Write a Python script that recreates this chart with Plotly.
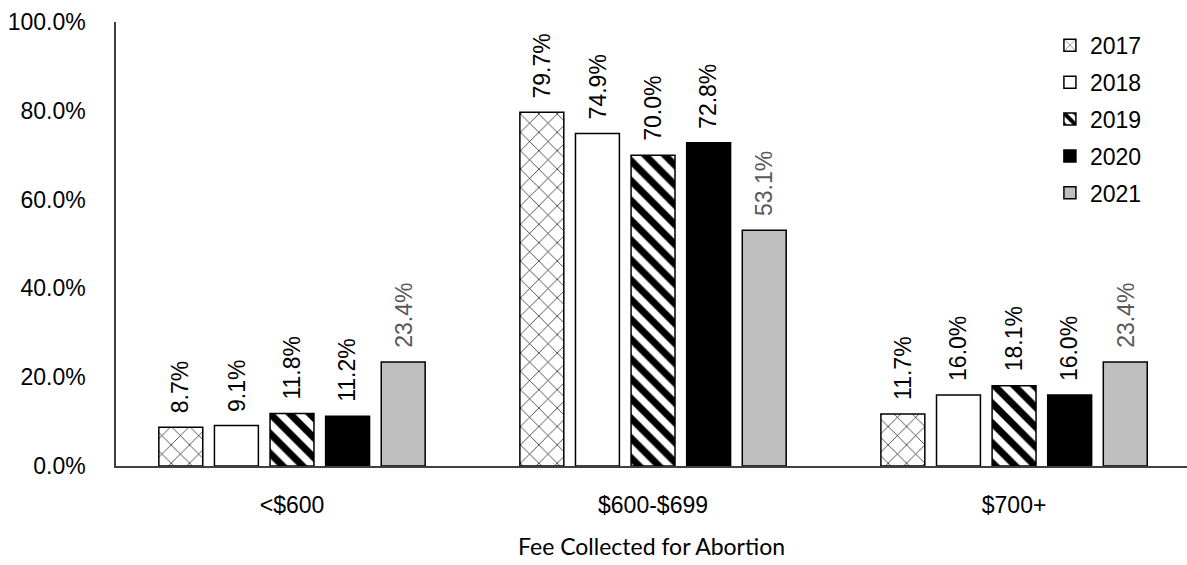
import plotly.graph_objects as go

categories = ["<$600", "$600-$699", "$700+"]
years = ["2017", "2018", "2019", "2020", "2021"]
values = {
    "2017": [8.7, 79.7, 11.7],
    "2018": [9.1, 74.9, 16.0],
    "2019": [11.8, 70.0, 18.1],
    "2020": [11.2, 72.8, 16.0],
    "2021": [23.4, 53.1, 23.4],
}
y_ticks = [0, 20, 40, 60, 80, 100]

FONT = "Liberation Sans, Arial, sans-serif"
FS = 23
BARGAP = 0.23
BARGROUPGAP = 0.21

styles = {
    "2017": dict(color="white", line=dict(color="black", width=1.5),
                 pattern=dict(shape="x", fgcolor="black", bgcolor="white", fgopacity=1,
                              size=13, solidity=0.1)),
    "2018": dict(color="white", line=dict(color="black", width=1.5)),
    "2019": dict(color="white", line=dict(color="black", width=1.5),
                 pattern=dict(shape="\\", fgcolor="black", bgcolor="white", fgopacity=1,
                              size=14, solidity=0.5)),
    "2020": dict(color="black", line=dict(color="black", width=1.5)),
    "2021": dict(color="#bfbfbf", line=dict(color="black", width=1.5)),
}
label_colors = {"2017": "black", "2018": "black", "2019": "black", "2020": "black", "2021": "#595959"}

fig = go.Figure()
n = len(years)
slot = (1 - BARGAP) / n
annotations = []
for j, yr in enumerate(years):
    vals = values[yr]
    fig.add_trace(go.Bar(
        name=yr,
        legendgroup=yr,
        x=categories,
        y=vals,
        marker=styles[yr],
    ))
    offset = (j - (n - 1) / 2) * slot
    for i, v in enumerate(vals):
        annotations.append(dict(
            x=i + offset, y=v, xref="x", yref="y",
            text=f"{v:.1f}%", textangle=-90, showarrow=False,
            xanchor="center", yanchor="bottom", yshift=12,
            font=dict(family=FONT, size=FS, color=label_colors[yr]),
        ))

fig.update_layout(
    width=1187, height=565,
    margin=dict(l=116, r=0, t=22, b=99),
    paper_bgcolor="white", plot_bgcolor="white",
    barmode="group", bargap=BARGAP, bargroupgap=BARGROUPGAP,
    font=dict(family=FONT, size=FS, color="black"),
    annotations=annotations,
    legend=dict(x=0.872, y=0.996, xanchor="left", yanchor="top",
                font=dict(family=FONT, size=FS, color="black"),
                bgcolor="rgba(0,0,0,0)", itemwidth=30, tracegroupgap=4),
    xaxis=dict(
        type="category", range=[-0.4875, 2.479], automargin=False,
        showline=True, linecolor="#404040", linewidth=1.5,
        ticks="", showgrid=False, ticklabelstandoff=18,
        title=dict(text="Fee Collected for Abortion",
                   font=dict(family="Lato, Open Sans, sans-serif", size=23, color="black"),
                   standoff=22),
    ),
    yaxis=dict(
        range=[0, 100], tickvals=y_ticks, automargin=False,
        ticktext=[f"{v:.1f}%" for v in y_ticks],
        showline=True, linecolor="#404040", linewidth=1.5,
        ticks="", showgrid=False, zeroline=False, ticklabelstandoff=24,
    ),
)

fig.write_html("out.html", config={"displayModeBar": False},
               post_script="document.body.style.margin='0';")
